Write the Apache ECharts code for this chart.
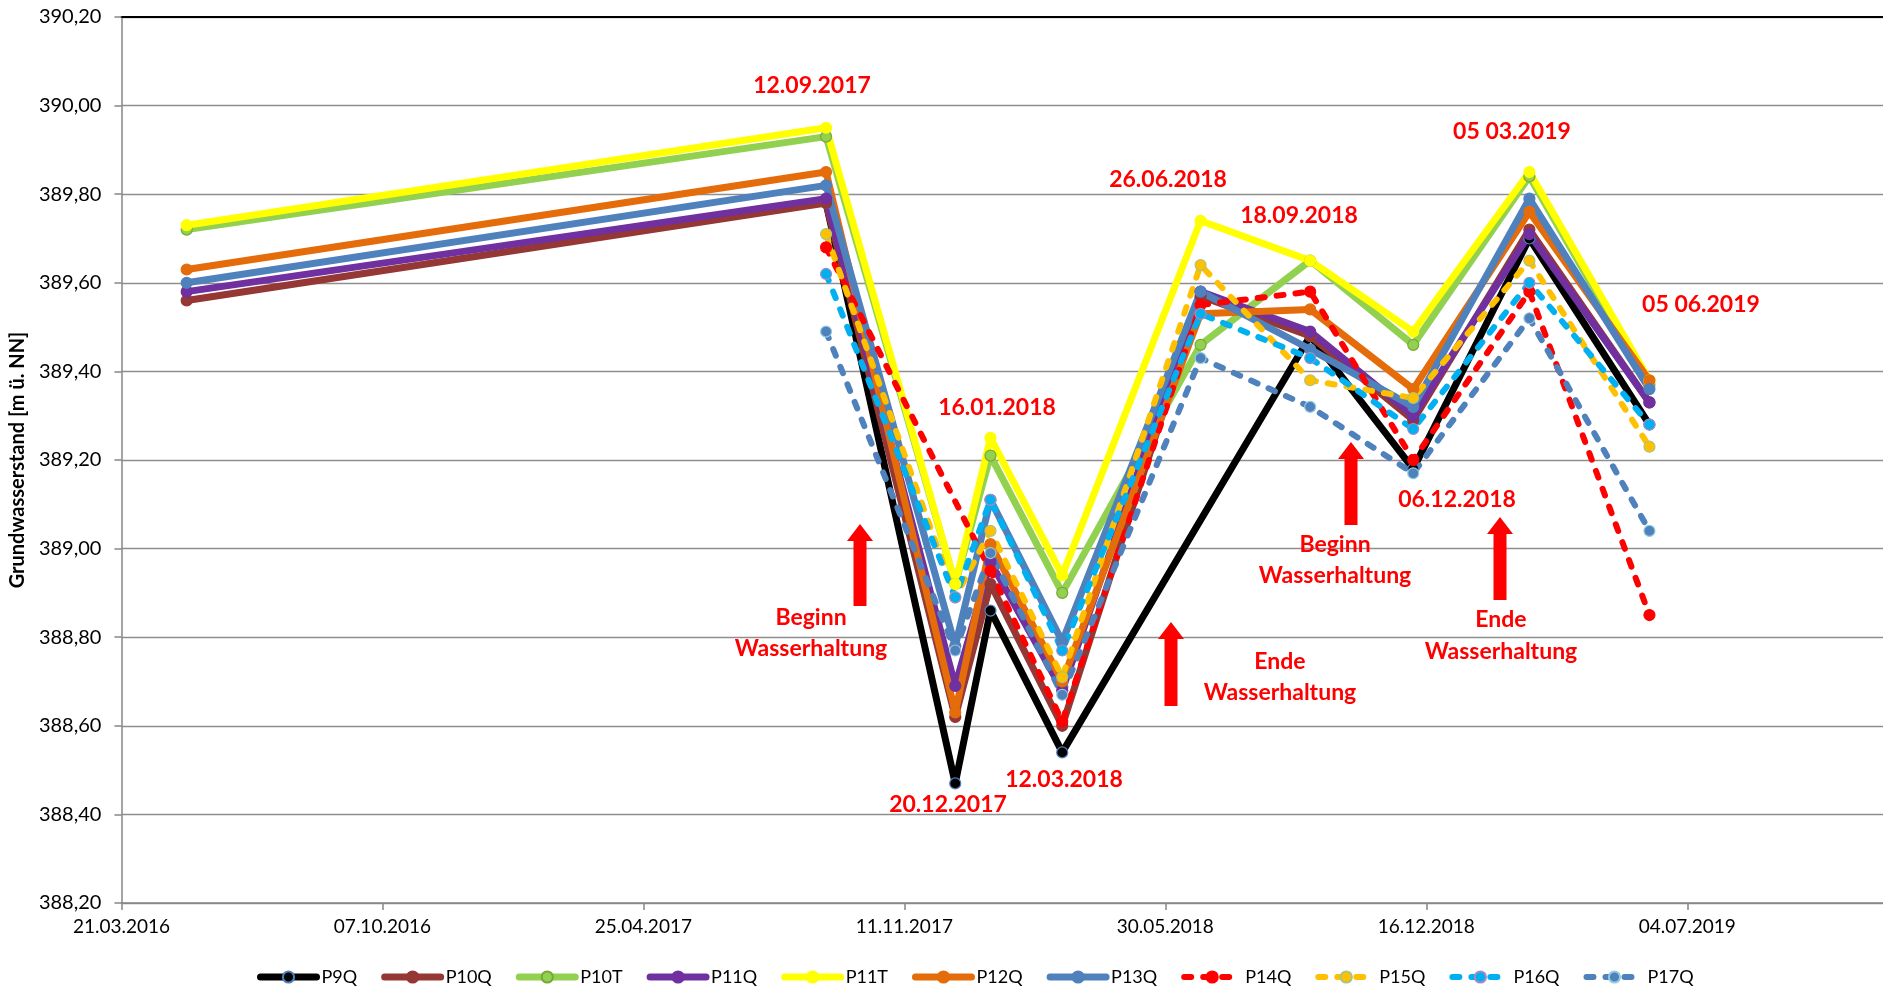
<!DOCTYPE html>
<html>
<head>
<meta charset="utf-8">
<script src="https://cdn.jsdelivr.net/npm/echarts@6/dist/echarts.min.js"></script>
<style>
  html, body { margin: 0; padding: 0; background: #fff; }
  #chart { width: 1883px; height: 989px; }
</style>
</head>
<body>
<div id="chart"></div>
<script>
// Measurement dates (groundwater gauges)
const dates = ['2016-05-10', '2017-09-12', '2017-12-20', '2018-01-16', '2018-03-12',
               '2018-06-26', '2018-09-18', '2018-12-06', '2019-03-05', '2019-06-05'];

// Groundwater levels [m ü. NN] per gauge; null = no reading on that date
const P9Q  = [null,   389.78, 388.47, 388.86, 388.54, null,   389.48, 389.18, 389.70, 389.28];
const P10Q = [389.56, 389.78, 388.62, 388.92, 388.60, 389.57, 389.48, 389.29, 389.72, 389.33];
const P10T = [389.72, 389.93, 388.92, 389.21, 388.90, 389.46, 389.65, 389.46, 389.84, 389.37];
const P11Q = [389.58, 389.79, 388.69, 388.97, 388.68, 389.58, 389.49, 389.30, 389.71, 389.33];
const P11T = [389.73, 389.95, 388.92, 389.25, 388.94, 389.74, 389.65, 389.49, 389.85, 389.38];
const P12Q = [389.63, 389.85, 388.63, 389.01, 388.70, 389.53, 389.54, 389.36, 389.76, 389.38];
const P13Q = [389.60, 389.82, 388.78, 389.11, 388.79, 389.58, 389.45, 389.32, 389.79, 389.36];
const P14Q = [null,   389.68, null,   388.95, 388.61, 389.55, 389.58, 389.20, 389.58, 388.85];
const P15Q = [null,   389.71, 388.89, 389.04, 388.71, 389.64, 389.38, 389.34, 389.65, 389.23];
const P16Q = [null,   389.62, 388.89, 389.11, 388.77, 389.53, 389.43, 389.27, 389.60, 389.28];
const P17Q = [null,   389.49, 388.77, 388.99, 388.67, 389.43, 389.32, 389.17, 389.52, 389.04];

// Date axis: day 0 = 21.03.2016, one tick every 200 days
const axisStart = '2016-03-21';
const xTickLabels = ['21.03.2016', '07.10.2016', '25.04.2017', '11.11.2017',
                     '30.05.2018', '16.12.2018', '04.07.2019'];

const DAY = 86400000;
function dayOffset(iso) {
  const [y, m, d] = iso.split('-').map(Number);
  const [y0, m0, d0] = axisStart.split('-').map(Number);
  return Math.round((Date.UTC(y, m - 1, d) - Date.UTC(y0, m0 - 1, d0)) / DAY);
}
const xDays = dates.map(dayOffset);

const seriesDefs = [
  { name: 'P9Q',  values: P9Q,  color: '#000000', border: '#4F81BD', dashed: false },
  { name: 'P10Q', values: P10Q, color: '#953735', border: '#953735', dashed: false },
  { name: 'P10T', values: P10T, color: '#92D050', border: '#77A83A', dashed: false },
  { name: 'P11Q', values: P11Q, color: '#7030A0', border: '#7030A0', dashed: false },
  { name: 'P11T', values: P11T, color: '#FFFF00', border: '#FFFF00', dashed: false },
  { name: 'P12Q', values: P12Q, color: '#E46C0A', border: '#E46C0A', dashed: false },
  { name: 'P13Q', values: P13Q, color: '#4F81BD', border: '#4F81BD', dashed: false },
  { name: 'P14Q', values: P14Q, color: '#FF0000', border: '#FF0000', dashed: true },
  { name: 'P15Q', values: P15Q, color: '#FFC000', border: '#A9C47F', dashed: true },
  { name: 'P16Q', values: P16Q, color: '#00B0F0', border: '#A58BC5', dashed: true },
  { name: 'P17Q', values: P17Q, color: '#4F81BD', border: '#93CDDD', dashed: true }
];

const FONT = 'Lato, "Liberation Sans", Arial, sans-serif';
const RED = '#FF0000';

const series = seriesDefs.map(s => ({
  name: s.name,
  type: 'line',
  xAxisIndex: 0,
  data: xDays.map((d, i) => [d, s.values[i]]),
  connectNulls: true,
  symbol: 'circle',
  symbolSize: 11,
  showAllSymbol: true,
  lineStyle: {
    color: s.color,
    width: s.dashed ? 6 : 7,
    type: s.dashed ? [7, 12] : 'solid',
    cap: 'round',
    join: 'round'
  },
  itemStyle: { color: s.color, borderColor: s.border, borderWidth: 1.2 },
  emphasis: { disabled: true },
  animation: false
}));

// Red annotation texts: [text, centre x, centre y]
const notes = [
  ['12.09.2017', 812, 86],
  ['16.01.2018', 997, 408],
  ['20.12.2017', 948, 805],
  ['12.03.2018', 1064, 780],
  ['26.06.2018', 1168, 180],
  ['18.09.2018', 1299, 216],
  ['06.12.2018', 1457, 500],
  ['05 03.2019', 1512, 132],
  ['05 06.2019', 1701, 305],
  ['Beginn', 811, 618],
  ['Wasserhaltung', 811, 649],
  ['Ende', 1280, 662],
  ['Wasserhaltung', 1280, 693],
  ['Beginn', 1335, 545],
  ['Wasserhaltung', 1335, 576],
  ['Ende', 1501, 620],
  ['Wasserhaltung', 1501, 652]
];

// Upward block arrows: [centre x, tip y, bottom y]
const arrows = [
  [860, 524, 606],
  [1171, 622, 706],
  [1351, 442, 525],
  [1500, 517, 600]
];

function arrowShape(cx, tip, bottom) {
  const headH = 17, headW = 13, shaftW = 6.5;
  return [
    [cx, tip], [cx + headW, tip + headH], [cx + shaftW, tip + headH],
    [cx + shaftW, bottom], [cx - shaftW, bottom], [cx - shaftW, tip + headH],
    [cx - headW, tip + headH]
  ];
}

const graphics = [];
notes.forEach(([t, x, y]) => graphics.push({
  type: 'text', x: x, y: y, silent: true, z: 100,
  style: {
    text: t, fill: RED, font: 'bold 23px ' + FONT,
    textAlign: 'center', textVerticalAlign: 'middle'
  }
}));
arrows.forEach(([cx, tip, bottom]) => graphics.push({
  type: 'polygon', silent: true, z: 100,
  shape: { points: arrowShape(cx, tip, bottom) },
  style: { fill: RED }
}));

const chart = echarts.init(document.getElementById('chart'), null, { renderer: 'canvas' });
chart.setOption({
  backgroundColor: '#ffffff',
  animation: false,
  grid: { left: 121, right: 0, top: 17, bottom: 86, containLabel: false },
  xAxis: [
    {
      type: 'value',
      min: 0,
      max: 1350,
      interval: 200,
      axisLine: { show: true, onZero: false, lineStyle: { color: '#868686', width: 1.5 } },
      axisTick: { show: true, inside: false, length: 7, lineStyle: { color: '#868686', width: 1.5 } },
      axisLabel: {
        margin: 14,
        color: '#000',
        fontFamily: FONT,
        fontSize: 19,
        showMaxLabel: false,
        formatter: v => (v % 200 === 0 && xTickLabels[v / 200]) ? xTickLabels[v / 200] : ''
      },
      splitLine: { show: false }
    },
    {
      // top border of the plot area
      type: 'value',
      position: 'top',
      min: 0,
      max: 1350,
      axisLine: { show: true, lineStyle: { color: '#000', width: 1.8 } },
      axisTick: { show: false },
      axisLabel: { show: false },
      splitLine: { show: false }
    }
  ],
  yAxis: {
    type: 'value',
    min: 388.2,
    max: 390.2,
    interval: 0.2,
    name: 'Grundwasserstand [m ü. NN]',
    nameLocation: 'middle',
    nameGap: 83,
    nameRotate: 90,
    nameTextStyle: { fontFamily: FONT, fontSize: 20, fontWeight: 'bold', color: '#000' },
    axisLine: { show: true, lineStyle: { color: '#868686', width: 1.5 } },
    axisTick: { show: true, inside: false, length: 7, lineStyle: { color: '#868686', width: 1.5 } },
    axisLabel: {
      margin: 20,
      color: '#000',
      fontFamily: FONT,
      fontSize: 20,
      formatter: v => v.toFixed(2).replace('.', ',')
    },
    splitLine: { show: true, lineStyle: { color: '#8E8E8E', width: 1.3 } }
  },
  legend: {
    show: true,
    left: 252,
    top: 963,
    itemWidth: 56,
    itemHeight: 14,
    itemGap: 24,
    lineStyle: { width: 'inherit' },
    textStyle: { fontFamily: FONT, fontSize: 18, color: '#000' },
    data: seriesDefs.map(s => s.name)
  },
  series: series,
  graphic: graphics
});
</script>
</body>
</html>
